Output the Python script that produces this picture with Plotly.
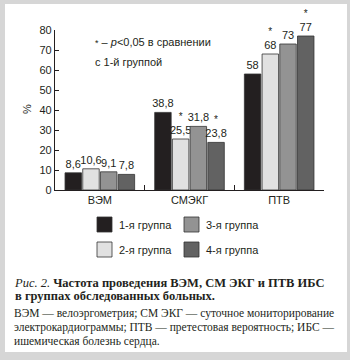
import plotly.graph_objects as go

# Study indicators and the share (%) of patients in each group
categories = ["ВЭМ", "СМЭКГ", "ПТВ"]
group1 = [8.6, 38.8, 58]
group2 = [10.6, 25.5, 68]
group3 = [9.1, 31.8, 73]
group4 = [7.8, 23.8, 77]

# p<0.05 versus group 1
sig1 = [False, False, False]
sig2 = [False, True, True]
sig3 = [False, False, False]
sig4 = [False, True, True]

group_names = ["1-я группа", "2-я группа", "3-я группа", "4-я группа"]
colors = ["#231f20", "#e1e1e1", "#939393", "#626262"]

y_ticks = [0, 10, 20, 30, 40, 50, 60, 70, 80]

W, H = 350, 360
L, R, T, B = 55, 26, 30, 170
PW, PH = W - L - R, H - T - B
INK = "#231f20"
SANS = "Liberation Sans, Arial, sans-serif"
SERIF = "Liberation Serif, Times New Roman, serif"


def px(x):
    return (x - L) / PW


def py(y):
    return (H - B - y) / PH


def label(v, star):
    s = f"{v:g}".replace(".", ",")
    if star:
        s = "<span style='font-size:10px'>*</span><br>" + s
    return s


fig = go.Figure()
series = [(group1, sig1), (group2, sig2), (group3, sig3), (group4, sig4)]
for (vals, sig), name, col in zip(series, group_names, colors):
    fig.add_trace(go.Bar(
        x=categories, y=vals, name=name,
        marker=dict(color=col, line=dict(color="#333333", width=0.8)),
        text=[label(v, s) for v, s in zip(vals, sig)],
        textposition="outside", constraintext="none", cliponaxis=False,
        textfont=dict(family=SANS, size=11, color=INK),
        showlegend=False, hoverinfo="skip",
    ))

shapes = [
    # white card on a grey frame
    dict(type="rect", xref="paper", yref="paper", layer="below",
         x0=px(5), x1=px(347), y0=py(352), y1=py(4),
         fillcolor="white", line=dict(width=0)),
]
annotations = []

# legend: two columns, groups 1-2 on the left, 3-4 on the right
legend_pos = [(97, 217), (97, 242), (184, 217), (184, 242)]
for (lx, ly), name, col in zip(legend_pos, group_names, colors):
    shapes.append(dict(type="rect", xref="paper", yref="paper",
                       x0=px(lx), x1=px(lx + 15), y0=py(ly + 15), y1=py(ly),
                       fillcolor=col, line=dict(color="#333333", width=0.8)))
    annotations.append(dict(xref="paper", yref="paper", x=px(lx + 20), y=py(ly + 8),
                            xanchor="left", yanchor="middle", showarrow=False,
                            text=name, font=dict(family=SANS, size=11, color=INK)))

# significance note
annotations.append(dict(xref="paper", yref="paper", x=px(93), y=py(42),
                        xanchor="left", yanchor="middle", showarrow=False,
                        text="<span style='font-size:9px'>*</span> – <i>p</i>&lt;0,05 в сравнении",
                        font=dict(family=SANS, size=11, color=INK)))
annotations.append(dict(xref="paper", yref="paper", x=px(93), y=py(62),
                        xanchor="left", yanchor="middle", showarrow=False,
                        text="с 1-й группой",
                        font=dict(family=SANS, size=11, color=INK)))

# y-axis unit
annotations.append(dict(xref="paper", yref="paper", x=px(27), y=py(109),
                        xanchor="center", yanchor="middle", showarrow=False,
                        text="%", textangle=-90,
                        font=dict(family=SANS, size=11, color=INK)))

# figure caption: title paragraph and abbreviations paragraph
title_lines = [
    "<i>Рис. 2.</i> <b>Частота проведения ВЭМ, СМ ЭКГ и ПТВ ИБС</b>",
    "<b>в группах обследованных больных.</b>",
]
note_lines = [
    "ВЭМ — велоэргометрия; СМ ЭКГ — суточное мониторирование",
    "электрокардиограммы; ПТВ — претестовая вероятность; ИБС —",
    "ишемическая болезнь сердца.",
]
# base size sets the line pitch, the inner span sets the glyph size
for lines, cy, pitch_size, glyph_size in [
    (title_lines, 289.5, 10.2, 12.5),
    (note_lines, 327.0, 10.8, 11.5),
]:
    txt = "<br>".join(f"<span style='font-size:{glyph_size}px'>{ln}</span>" for ln in lines)
    annotations.append(dict(xref="paper", yref="paper", x=px(13), y=py(cy),
                            xanchor="left", yanchor="middle", align="left",
                            showarrow=False, borderpad=0, text=txt,
                            font=dict(family=SERIF, size=pitch_size, color=INK)))

fig.update_layout(
    width=W, height=H,
    margin=dict(l=L, r=R, t=T, b=B, pad=0),
    paper_bgcolor="#d6d6d6", plot_bgcolor="white",
    barmode="group", bargap=0.21, bargroupgap=0.07,
    shapes=shapes, annotations=annotations,
    font=dict(family=SANS, size=11, color=INK),
)
fig.update_xaxes(
    showline=True, linecolor=INK, linewidth=1.2,
    ticks="inside", tickson="boundaries", ticklen=5, tickcolor=INK,
    tickfont=dict(family=SANS, size=11, color=INK), showgrid=False,
)
fig.update_yaxes(
    range=[0, 80], tickvals=y_ticks, ticktext=[str(v) for v in y_ticks],
    showline=True, linecolor=INK, linewidth=1.2,
    ticks="inside", ticklen=4, tickcolor=INK, showgrid=False, zeroline=False,
    tickfont=dict(family=SANS, size=11, color=INK),
)

fig.write_html("out.html")
